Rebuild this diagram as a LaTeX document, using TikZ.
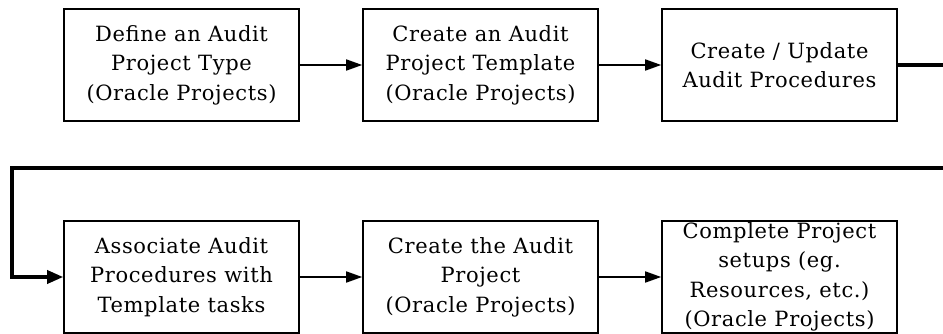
\documentclass[tikz,border=0pt]{standalone}
\usepackage{fontspec}
\setmainfont{DejaVu Serif}[LetterSpace=3]
\usetikzlibrary{arrows.meta}
\begin{document}
\begin{tikzpicture}[x=1pt,y=-1pt,
  stepbox/.style={draw, line width=1.6pt, minimum width=235pt, minimum height=112pt,
    inner sep=0pt, align=center, font=\fontsize{21}{29.5}\selectfont},
  flow/.style={line width=1.7pt, -{Triangle[length=16pt,width=11pt]}},
  loopline/.style={line width=3.4pt, -{Triangle[length=16pt,width=13pt]}}]
\useasboundingbox (0,0) rectangle (943,334);
\clip (0,0) rectangle (943,334);
\node[stepbox] (a) at (181.5,65) {Define an Audit\\Project Type\\(Oracle Projects)};
\node[stepbox] (b) at (480.5,65) {Create an Audit\\Project Template\\(Oracle Projects)};
\node[stepbox] (c) at (779.5,65) {Create / Update\\Audit Procedures};
\node[stepbox] (d) at (181.5,277) {Associate Audit\\Procedures with\\Template tasks};
\node[stepbox] (e) at (480.5,277) {Create the Audit\\Project\\(Oracle Projects)};
\node[stepbox] (f) at (779.5,277) {Complete Project\\setups (eg.\\Resources, etc.)\\(Oracle Projects)};
\coordinate (r1) at (952,65);
\coordinate (r2) at (952,168);
\coordinate (l1) at (12,168);
\coordinate (l2) at (12,277);
\draw[flow] (a.east) -- (b.west);
\draw[flow] (b.east) -- (c.west);
\draw[flow] (d.east) -- (e.west);
\draw[flow] (e.east) -- (f.west);
\draw[loopline, line join=miter] (c.east) -- (r1) -- (r2) -- (l1) -- (l2) -- (d.west);
\end{tikzpicture}
\end{document}
